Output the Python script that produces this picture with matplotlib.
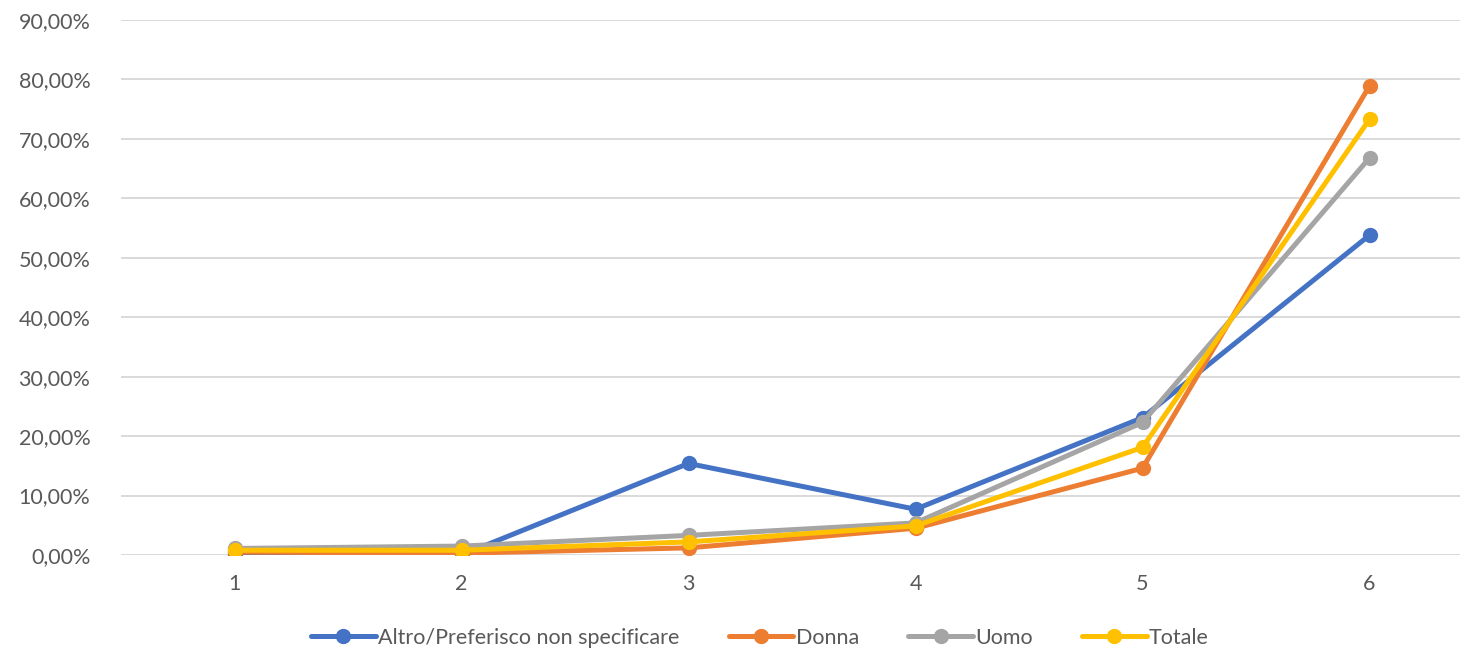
import matplotlib
matplotlib.use("Agg")
import matplotlib.pyplot as plt
from matplotlib.ticker import FuncFormatter

categories = [1, 2, 3, 4, 5, 6]
altro = [0.2, 0.0, 15.4, 7.7, 23.1, 53.8]
donna = [0.5, 0.3, 1.2, 4.5, 14.6, 78.9]
uomo = [1.1, 1.5, 3.3, 5.4, 22.3, 66.8]
totale = [0.8, 0.8, 2.2, 4.9, 18.1, 73.3]
series_names = ["Altro/Preferisco non specificare", "Donna", "Uomo", "Totale"]
colors = ["#4472C4", "#ED7D31", "#A5A5A5", "#FFC000"]

plt.rcParams['font.family'] = ['Lato', 'DejaVu Sans']

W, H = 1460, 653
fig = plt.figure(figsize=(W / 100, H / 100), dpi=100)
left, right = 121, 1460
bottom, top = H - 555, H - 20
ax = fig.add_axes([left / W, bottom / H, (right - left) / W, (top - bottom) / H])

for vals, name, c in zip([altro, donna, uomo, totale], series_names, colors):
    ax.plot(categories, vals, color=c, lw=3.6, marker='o', markersize=10,
            label=name, solid_capstyle='round', zorder=3)

ax.set_xlim(0.5, 0.5 + (right - left) / 227.0)
ax.set_ylim(0, 90)
ax.set_yticks(range(0, 91, 10))
ax.yaxis.set_major_formatter(FuncFormatter(lambda v, p: f"{v:.2f}".replace('.', ',') + "%"))
ax.set_xticks(categories)
ax.set_xticklabels([str(c) for c in categories])
ax.grid(axis='y', color='#D9D9D9', lw=1.4)
ax.set_axisbelow(True)
for s in ax.spines.values():
    s.set_visible(False)
ax.tick_params(axis='both', length=0, labelsize=15.5, labelcolor='#595959')
ax.tick_params(axis='y', pad=22)
ax.tick_params(axis='x', pad=14)

leg = fig.legend(loc='center', bbox_to_anchor=(760 / W, 1 - 638 / H), ncol=4,
                 frameon=False, fontsize=15.5, handlelength=3.0, handletextpad=0.1,
                 columnspacing=2.3, labelcolor='#595959')

fig.savefig("out.png", dpi=100)
